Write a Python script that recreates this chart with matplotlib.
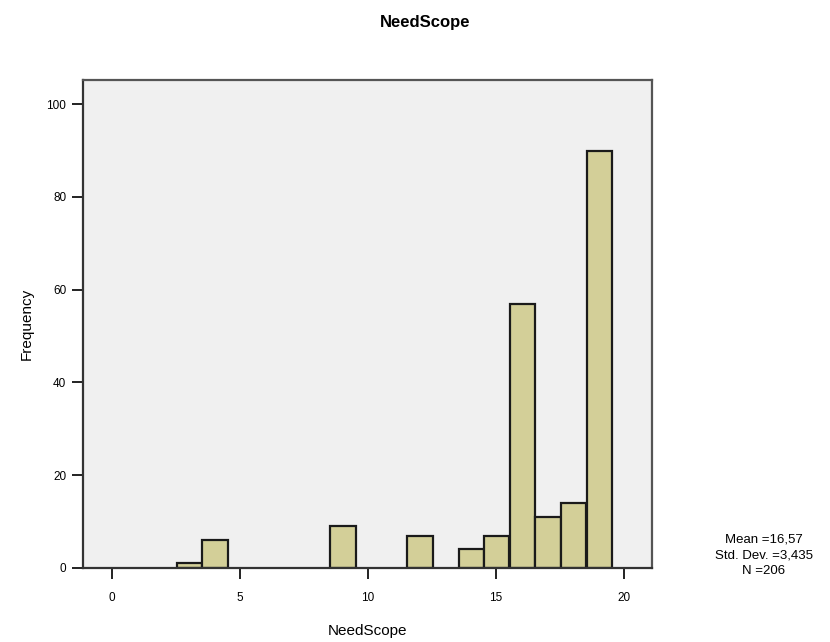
import matplotlib
matplotlib.use("Agg")
import matplotlib.pyplot as plt

# NeedScope score histogram (one bar per integer score)
scores = [3, 4, 9, 12, 14, 15, 16, 17, 18, 19]
counts = [1, 6, 9, 7, 4, 7, 57, 11, 14, 90]
xticks = [0, 5, 10, 15, 20]
yticks = [0, 20, 40, 60, 80, 100]
stats_text = "Mean =16,57\nStd. Dev. =3,435\nN =206"

plt.rcParams['font.family'] = ['Liberation Sans', 'DejaVu Sans']

fig = plt.figure(figsize=(8.3, 6.42), dpi=100)
ax = fig.add_axes([0.1, 0.1153, 0.6855, 0.7601])
ax.set_facecolor("#f0f0f0")

ax.bar([s + 0.04 for s in scores], counts, width=0.99, color="#d3cf98",
       edgecolor="#1a1a1a", linewidth=1.6)

ax.set_xlim(-1.12, 21.1)
ax.set_ylim(0, 105.2)
ax.set_xticks(xticks)
ax.set_yticks(yticks)
ax.tick_params(axis="both", direction="out", length=8, width=1.4,
               labelsize=8.5, color="#222222")
ax.tick_params(axis="x", pad=9)
ax.tick_params(axis="y", pad=4)

for side in ["left", "bottom", "top", "right"]:
    ax.spines[side].set_linewidth(1.6)
    ax.spines[side].set_color("#333333")
ax.spines["top"].set_color("#555555")
ax.spines["right"].set_color("#555555")

ax.set_xlabel("NeedScope", fontsize=11, labelpad=15)
ax.set_ylabel("Frequency", fontsize=11, labelpad=9)
fig.text(0.512, 0.965, "NeedScope", ha="center", va="center",
         fontsize=12, fontweight="bold")
fig.text(0.92, 0.1355, stats_text, ha="center", va="center",
         fontsize=9.5, linespacing=1.4)

fig.savefig("out.png", dpi=100)
